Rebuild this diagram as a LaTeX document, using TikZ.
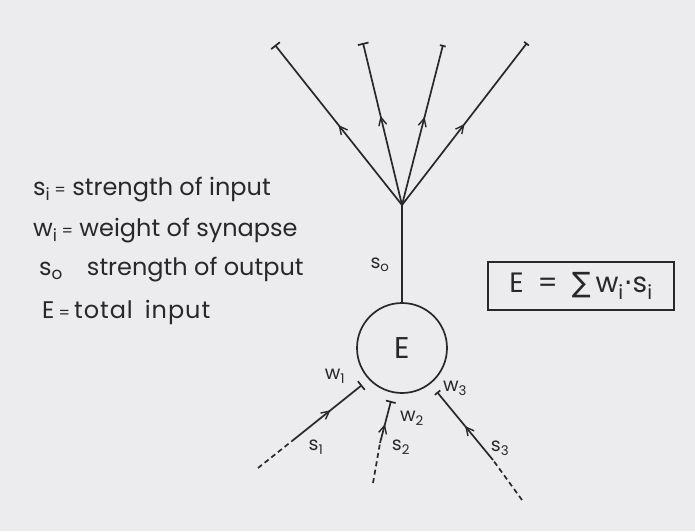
\documentclass[tikz,border=0pt]{standalone}
\usepackage{fontspec}
\setmainfont{Poppins}
\newfontfamily\djv{DejaVu Sans}
\usetikzlibrary{arrows.meta,decorations.markings}
\definecolor{bg}{RGB}{236,236,239}
\definecolor{ink}{RGB}{40,40,42}
\begin{document}
\begin{tikzpicture}[x=1pt,y=-1pt,
  ln/.style={line width=1.7pt, draw=ink},
  midarrow/.style={postaction={decorate},decoration={markings,
     mark=at position #1 with {\arrow[ink]{Straight Barb[length=8pt,width=8pt,line width=1.4pt]}}}},
  dsh/.style={ln, dash pattern=on 5pt off 3.5pt},
  legend/.style={anchor=west, text=ink, font=\fontsize{24}{26}\selectfont, inner sep=0pt},
  lbl/.style={text=ink, font=\fontsize{19}{21}\selectfont, inner sep=0pt},
  endbar/.style={-{Bar[width=#1,line width=1.7pt]}}
]
\fill[bg] (0,0) rectangle (695,531);
\useasboundingbox (0,0) rectangle (695,531);

% neuron
\node[circle, draw=ink, line width=1.7pt, minimum size=90pt, inner sep=0pt,
      text=ink, font=\fontsize{30}{32}\selectfont] (E) at (402,348) {E};
\coordinate (B) at (402,205);
\draw[ln] (E.north) -- (B);

% outputs
\coordinate (o1) at (275,45);
\coordinate (o2) at (363,43);
\coordinate (o3) at (443,45);
\coordinate (o4) at (527,43);
\draw[ln, midarrow=0.5, endbar=11pt] (B) -- (o1);
\draw[ln, midarrow=0.55, endbar=11pt] (B) -- (o2);
\draw[ln, midarrow=0.55, endbar=6pt] (B) -- (o3);
\draw[ln, midarrow=0.5, endbar=6pt] (B) -- (o4);
\node[lbl] (so) at (380,265) {s\textsubscript{o}};

% inputs
\coordinate (a1) at (258,468);
\coordinate (b1) at (292,441);
\coordinate (c1) at (362,385);
\coordinate (a2) at (373,483);
\coordinate (b2) at (380,443);
\coordinate (c2) at (391,401);
\coordinate (a3) at (522,500);
\coordinate (b3) at (493,460);
\coordinate (c3) at (437,392);
\draw[dsh] (a1) -- (b1);
\draw[ln, midarrow=0.55, endbar=11pt] (b1) -- (c1);
\draw[dsh] (a2) -- (b2);
\draw[ln, midarrow=0.45, endbar=10pt] (b2) -- (c2);
\draw[dsh] (a3) -- (b3);
\draw[ln, midarrow=0.5, endbar=7pt] (b3) -- (c3);

\node[lbl] (w1) at (335,376) {w\textsubscript{1}};
\node[lbl] (w2) at (412,418) {w\textsubscript{2}};
\node[lbl] (w3) at (455,388) {w\textsubscript{3}};
\node[lbl] (s1) at (316,447) {s\textsubscript{1}};
\node[lbl] (s2) at (401,447) {s\textsubscript{2}};
\node[lbl] (s3) at (500,448) {s\textsubscript{3}};

% legend
\node[legend] (l1) at (33,190) {s\textsubscript{i}\,{\fontsize{16}{16}\selectfont =} strength of input};
\node[legend] (l2) at (33,231) {w\textsubscript{i}\,{\fontsize{16}{16}\selectfont =} weight of synapse};
\node[legend] (l3) at (39,270) {s\textsubscript{o}\quad strength of output};
\node[legend] (l4) at (42,312) {E\,{\fontsize{16}{16}\selectfont =}\,\addfontfeature{LetterSpace=4}total\enspace input};

% formula box
\node[draw=ink, line width=1.7pt, minimum width=186pt, minimum height=48pt,
      text=ink, font=\fontsize{28}{30}\selectfont] (box) at (581,286)
      {E\enspace=\enspace{\djv ∑}\,w\textsubscript{i}{\djv ·}s\textsubscript{i}};
\end{tikzpicture}
\end{document}
